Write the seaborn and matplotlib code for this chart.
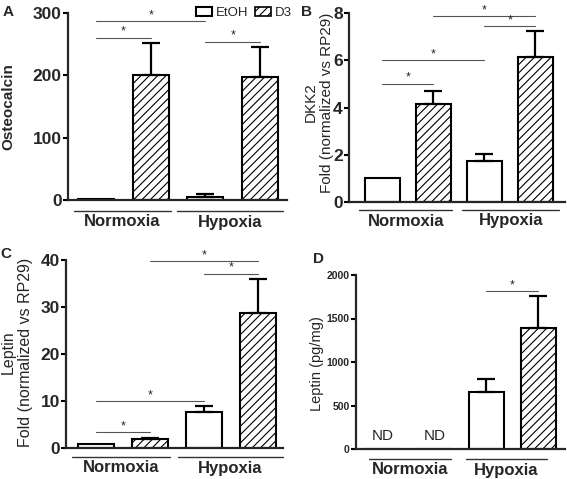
import numpy as np
import pandas as pd
import matplotlib
matplotlib.use('Agg')
import matplotlib.pyplot as plt
from matplotlib.patches import Patch
import seaborn as sns

sns.set_style('ticks')
plt.rcParams['font.family'] = ['Liberation Sans', 'DejaVu Sans']
plt.rcParams['hatch.linewidth'] = 0.8

conditions = ['Normoxia', 'Hypoxia']
treatments = ['EtOH', 'D3']
bar_labels = ['Normoxia EtOH', 'Normoxia D3', 'Hypoxia EtOH', 'Hypoxia D3']

osteocalcin_mean = [1, 200, 5, 197]
osteocalcin_sem = [0, 52, 4, 48]
dkk2_mean = [1.0, 4.15, 1.74, 6.15]
dkk2_sem = [0, 0.56, 0.3, 1.09]
leptin_mrna_mean = [0.9, 1.9, 7.6, 28.7]
leptin_mrna_sem = [0, 0.3, 1.4, 7.3]
leptin_protein_mean = [0, 0, 650, 1390]
leptin_protein_sem = [0, 0, 155, 365]

# significance lines: (from bar, to bar, height)
osteocalcin_sig = [(0, 2, 287), (0, 1, 260), (2, 3, 254)]
dkk2_sig = [(1, 3, 7.87), (2, 3, 7.45), (0, 2, 6.0), (0, 1, 5.0)]
leptin_mrna_sig = [(1, 3, 39.7), (2, 3, 37.1), (0, 2, 9.9), (0, 1, 3.4)]
leptin_protein_sig = [(2, 3, 1816)]

W, H = 567, 479
fig = plt.figure(figsize=(5.67, 4.79), dpi=100)


def px_axes(left, right, top, bottom):
    return fig.add_axes([left / W, 1 - bottom / H, (right - left) / W, (bottom - top) / H])


def vtext(x, y, s, **kw):
    # vertical label placed by pixel centre
    fig.text(x / W, 1 - y / H, s, rotation=90, ha='center', va='center', **kw)


def panel(ax, mean, sem, sig, yticks, ylim, xlim, width, tick_size,
          group_lines, line_y, label_y):
    df = pd.DataFrame({'group': bar_labels, 'value': mean})
    sns.barplot(data=df, x='group', y='value', order=bar_labels, color='white',
                saturation=1, edgecolor='black', linewidth=1.5, width=width,
                errorbar=None, ax=ax)
    for i, p in enumerate(ax.patches):
        if i % 2 == 1:
            p.set_hatch('////')
    x = np.arange(len(mean))
    sem = np.array(sem)
    keep = sem > 0
    ax.errorbar(x[keep], np.array(mean)[keep], yerr=[np.zeros(keep.sum()), sem[keep]],
                fmt='none', ecolor='black', elinewidth=1.6, capsize=6.5, capthick=1.6,
                zorder=1)
    for a, b, h in sig:
        ax.plot([a, b], [h, h], color='#555555', lw=0.8, clip_on=False)
        ax.text((a + b) / 2, h, '*', ha='center', va='bottom', fontsize=9)
    ax.set_xlim(*xlim)
    ax.set_ylim(*ylim)
    ax.set_yticks(yticks, labels=[str(t) for t in yticks], fontsize=tick_size,
                  fontweight='bold')
    ax.set_xticks([])
    ax.set_xlabel('')
    ax.set_ylabel('')
    sns.despine(ax=ax)
    for s in ['left', 'bottom']:
        ax.spines[s].set_linewidth(1.6)
    ax.tick_params(axis='y', length=3.5, width=1.5, pad=1, color='black')
    tr = ax.get_xaxis_transform()
    for name, (x0, x1) in zip(conditions, group_lines):
        ax.plot([x0, x1], [line_y, line_y], transform=tr, color='#333333', lw=1,
                clip_on=False)
        ax.text((x0 + x1) / 2, label_y, name, transform=tr, ha='center', va='center',
                fontsize=12, fontweight='bold')


# A
axA = px_axes(68, 287, 13, 200)
panel(axA, osteocalcin_mean, osteocalcin_sem, osteocalcin_sig, [0, 100, 200, 300],
      (0, 300), (-0.51, 3.49), 0.66, 12.5, [(-0.4, 1.37), (1.48, 3.42)],
      -11 / 187, -22 / 187)
vtext(8, 107, 'Osteocalcin', fontsize=11, fontweight='bold')

# B
axB = px_axes(349, 565, 13, 202)
panel(axB, dkk2_mean, dkk2_sem, dkk2_sig, [0, 2, 4, 6, 8], (0, 8), (-0.65, 3.58), 0.69,
      12.5, [(-0.45, 1.37), (1.57, 3.47)], -8 / 189, -19 / 189)
vtext(311, 102, 'DKK2', fontsize=11)
vtext(327, 103, 'Fold (normalized vs RP29)', fontsize=11)

# C
axC = px_axes(66, 283, 260, 448)
panel(axC, leptin_mrna_mean, leptin_mrna_sem, leptin_mrna_sig, [0, 10, 20, 30, 40],
      (0, 40), (-0.55, 3.46), 0.67, 12.5, [(-0.43, 1.37), (1.52, 3.46)],
      -9 / 188, -20 / 188)
vtext(8, 352, 'Leptin', fontsize=11.5)
vtext(26, 352, 'Fold (normalized vs RP29)', fontsize=11.5)

# D
axD = px_axes(356, 565, 275, 449)
panel(axD, leptin_protein_mean, leptin_protein_sem, leptin_protein_sig,
      [0, 500, 1000, 1500, 2000], (0, 2000), (-0.51, 3.51), 0.66, 7.5,
      [(-0.26, 1.32), (1.61, 3.16)], -10 / 174, -21 / 174)
for i in [0, 1]:
    axD.text(i, 70, 'ND', ha='center', va='bottom', fontsize=11)
vtext(317.5, 363.5, 'Leptin (pg/mg)', fontsize=10.5)

# panel letters
for letter, (lx, ly) in zip('ABCD', [(8, 12), (307, 12), (6, 254), (318, 259)]):
    fig.text(lx / W, 1 - ly / H, letter, ha='center', va='center', fontsize=11,
             fontweight='bold')

# legend
handles = [Patch(facecolor='white', edgecolor='black', lw=1.5, label=treatments[0]),
           Patch(facecolor='white', edgecolor='black', lw=1.2, hatch='////',
                 label=treatments[1])]
fig.legend(handles=handles, loc='center', bbox_to_anchor=(244 / W, 1 - 13 / H), ncol=2,
           frameon=False, fontsize=9.5, handlelength=1.2, handleheight=0.65,
           handletextpad=0.3, columnspacing=0.5, borderpad=0)

fig.savefig('out.png', dpi=100)
